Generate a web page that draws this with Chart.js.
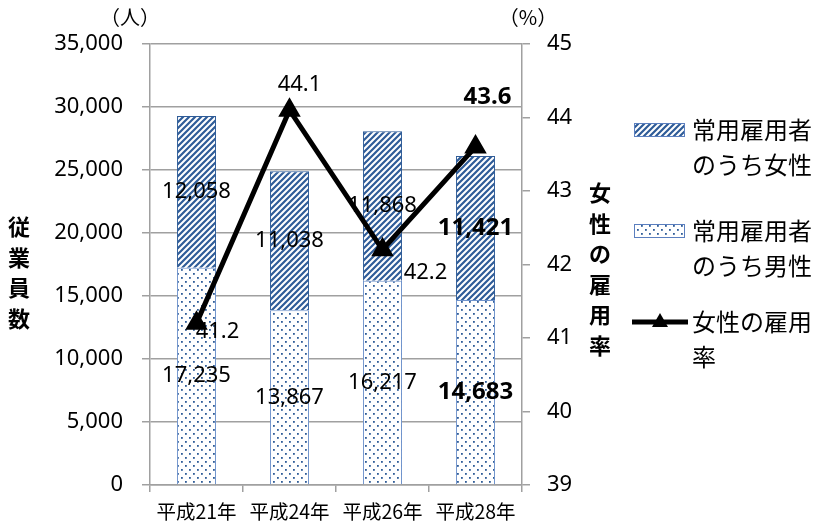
<!DOCTYPE html>
<html>
<head>
<meta charset="utf-8">
<script src="https://cdn.jsdelivr.net/npm/chart.js@4/dist/chart.umd.min.js"></script>
<style>
  body { margin: 0; background: #fff; }
  #wrap { width: 821px; height: 524px; }
</style>
</head>
<body>
<div id="wrap"><canvas id="chart_canvas" width="821" height="524"></canvas></div>
<script>
// values
const years = ["平成21年", "平成24年", "平成26年", "平成28年"];
const menCounts = [17235, 13867, 16217, 14683];
const womenCounts = [12058, 11038, 11868, 11421];
const womenRate = [41.2, 44.1, 42.2, 43.6];

const legendWomen = ["常用雇用者", "のうち女性"];
const legendMen = ["常用雇用者", "のうち男性"];
const legendRate = ["女性の雇用", "率"];

const numFont = "'Noto Sans', 'Noto Sans CJK JP', sans-serif";
const jpFont = "'Noto Sans CJK JP', sans-serif";
const blue = "#2F5C98";
const gridGray = "#A0A0A0";

// where the rate labels sit relative to their point
const rateLabelOffsets = [{x: 21, y: 8}, {x: 10, y: -25}, {x: 43, y: 23}, {x: 12, y: -50}];

function makeHatch()
{
  var c = document.createElement("canvas");
  c.width = 6; c.height = 6;
  var g = c.getContext("2d");
  g.fillStyle = "#fff";
  g.fillRect(0, 0, 6, 6);
  g.strokeStyle = blue;
  g.lineWidth = 2.2;
  g.beginPath();
  g.moveTo(-1, 7); g.lineTo(7, -1);
  g.moveTo(-4, 4); g.lineTo(4, -4);
  g.moveTo(2, 10); g.lineTo(10, 2);
  g.stroke();
  return g.createPattern(c, "repeat");
}

function makeDots()
{
  var c = document.createElement("canvas");
  c.width = 8; c.height = 8;
  var g = c.getContext("2d");
  g.fillStyle = "#fff";
  g.fillRect(0, 0, 8, 8);
  g.fillStyle = blue;
  g.fillRect(1, 1, 1.8, 1.8);
  g.fillRect(5, 5, 1.8, 1.8);
  return g.createPattern(c, "repeat");
}

const hatch = makeHatch();
const dots = makeDots();

function fmt(v)
{
  return v.toLocaleString("en-US");
}

const labelPlugin = {
  id: "valueLabels",
  afterDatasetsDraw(chart)
  {
    const ctx = chart.ctx;
    ctx.save();
    ctx.textAlign = "center";
    ctx.textBaseline = "middle";
    ctx.fillStyle = "#000";
    [0, 1].forEach(function(di)
    {
      const meta = chart.getDatasetMeta(di);
      const values = chart.data.datasets[di].data;
      meta.data.forEach(function(bar, i)
      {
        const last = i == values.length - 1;
        ctx.font = last ? "bold 24px " + numFont : "22px " + numFont;
        ctx.fillText(fmt(values[i]), bar.x, (bar.y + bar.base) / 2);
      });
    });
    const lineMeta = chart.getDatasetMeta(2);
    lineMeta.data.forEach(function(pt, i)
    {
      const last = i == womenRate.length - 1;
      ctx.font = last ? "bold 24px " + numFont : "22px " + numFont;
      ctx.fillText(womenRate[i].toFixed(1), pt.x + rateLabelOffsets[i].x, pt.y + rateLabelOffsets[i].y);
    });
    ctx.restore();
  },
  afterDraw(chart)
  {
    const ctx = chart.ctx;
    const area = chart.chartArea;
    ctx.save();
    ctx.fillStyle = "#000";
    ctx.textBaseline = "middle";
    ctx.textAlign = "center";

    // units
    ctx.font = "20px " + jpFont;
    ctx.fillText("（人）", area.left - 20, 17);
    ctx.fillText("（%）", area.right + 6, 17);

    // vertical axis titles
    ctx.font = "bold 22px " + jpFont;
    Array.from("従業員数").forEach(function(ch, i) { ctx.fillText(ch, 19, 227 + i * 30.5); });
    Array.from("女性の雇用率").forEach(function(ch, i) { ctx.fillText(ch, 600, 193 + i * 30.5); });

    // legend
    const lx = 634, tx = 692;
    ctx.textAlign = "left";
    ctx.font = "24px " + jpFont;
    const items = [
      {fill: hatch, text: legendWomen, y: 130},
      {fill: dots, text: legendMen, y: 231}
    ];
    items.forEach(function(it)
    {
      ctx.fillStyle = it.fill;
      ctx.fillRect(lx, it.y - 7, 51, 14);
      ctx.strokeStyle = "#5B7FBF";
      ctx.lineWidth = 1;
      ctx.strokeRect(lx + 0.5, it.y - 6.5, 50, 13);
      ctx.fillStyle = "#000";
      ctx.fillText(it.text[0], tx, it.y);
      ctx.fillText(it.text[1], tx, it.y + 35);
    });
    const ry = 322;
    ctx.strokeStyle = "#000";
    ctx.lineWidth = 5;
    ctx.beginPath();
    ctx.moveTo(632, ry); ctx.lineTo(688, ry);
    ctx.stroke();
    ctx.beginPath();
    ctx.moveTo(660, ry - 9); ctx.lineTo(668, ry + 5); ctx.lineTo(652, ry + 5); ctx.closePath();
    ctx.fillStyle = "#000";
    ctx.fill();
    ctx.fillText(legendRate[0], tx, ry);
    ctx.fillText(legendRate[1], tx, ry + 35);
    ctx.restore();
  }
};

const config = {
  type: "bar",
  data: {
    labels: years,
    datasets: [
      {
        label: legendMen.join(""),
        data: menCounts,
        backgroundColor: dots,
        borderColor: "#6F93CC",
        borderWidth: 1,
        stack: "staff",
        yAxisID: "y",
        order: 1
      },
      {
        label: legendWomen.join(""),
        data: womenCounts,
        backgroundColor: hatch,
        borderColor: blue,
        borderWidth: 1,
        stack: "staff",
        yAxisID: "y",
        order: 2
      },
      {
        type: "line",
        label: legendRate.join(""),
        data: womenRate,
        borderColor: "#000",
        backgroundColor: "#000",
        borderWidth: 5,
        pointStyle: "triangle",
        pointRadius: 8,
        pointHoverRadius: 8,
        tension: 0,
        yAxisID: "y1",
        order: 0
      }
    ]
  },
  options: {
    responsive: false,
    animation: false,
    events: [],
    categoryPercentage: 1,
    barPercentage: 0.42,
    layout: { padding: { top: 44, left: 0, right: 0, bottom: 0 } },
    plugins: {
      legend: { display: false },
      tooltip: { enabled: false }
    },
    scales: {
      x: {
        stacked: true,
        grid: { offset: true, drawOnChartArea: false, color: gridGray, lineWidth: 1.5, tickLength: 7 },
        border: { color: gridGray, width: 1.5 },
        ticks: { color: "#000", font: { family: jpFont, size: 19.5 }, padding: 8, maxRotation: 0 },
        afterFit: function(s) { s.height = 39; }
      },
      y: {
        stacked: true,
        position: "left",
        min: 0,
        max: 35000,
        grid: { color: gridGray, lineWidth: 1.5, tickLength: 8 },
        border: { color: gridGray, width: 1.5 },
        ticks: {
          stepSize: 5000,
          color: "#000",
          font: { family: numFont, size: 22 },
          padding: 19,
          callback: function(v) { return fmt(v); }
        },
        afterFit: function(s) { s.width = 150; }
      },
      y1: {
        position: "right",
        min: 39,
        max: 45,
        grid: { drawOnChartArea: false, color: gridGray, lineWidth: 1.5, tickLength: 8 },
        border: { color: gridGray, width: 1.5 },
        ticks: { stepSize: 1, color: "#000", font: { family: numFont, size: 22 }, padding: 17 },
        afterFit: function(s) { s.width = 299; }
      }
    }
  },
  plugins: [labelPlugin]
};

new Chart(document.getElementById("chart_canvas"), config);
</script>
</body>
</html>
